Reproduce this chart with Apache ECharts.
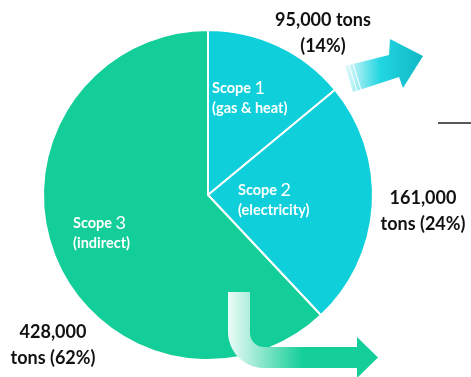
<!DOCTYPE html>
<html><head><meta charset="utf-8">
<script src="https://cdn.jsdelivr.net/npm/echarts@6/dist/echarts.min.js"></script>
<style>html,body{margin:0;padding:0;background:#fff}#c{width:471px;height:377px}</style>
</head><body><div id="c"></div>
<script>
const scopeNames = ['Scope', 'Scope', 'Scope'];
const scopeNums = ['1', '2', '3'];
const scopeDesc = ['(gas & heat)', '(electricity)', '(indirect)'];
const percents = [14, 24, 62];
const tons = ['95,000', '161,000', '428,000'];
const colors = ['#0fcfda', '#0fcfda', '#13ce98'];

const innerPos = [[212, 78], [238, 180], [73, 213]];
const outerPos = [[323, 7], [423, 185], [53, 319]];
const outerText = [
  tons[0] + ' tons\n(' + percents[0] + '%)',
  tons[1] + '\ntons (' + percents[1] + '%)',
  tons[2] + '\ntons (' + percents[2] + '%)'
];

function lin(x, y, x2, y2, stops) {
  return { type: 'linear', x: x, y: y, x2: x2, y2: y2, global: false,
    colorStops: stops.map(s => ({ offset: s[0], color: s[1] })) };
}
// points along a quarter arc (decorative arrow corner)
function arc(cx, cy, r, a0, a1, n) {
  const pts = [];
  for (let i = 0; i <= n; i++) {
    const a = (a0 + (a1 - a0) * i / n) * Math.PI / 180;
    pts.push([cx + r * Math.cos(a), cy + r * Math.sin(a)]);
  }
  return pts;
}
const bottomArrow = [[228, 292], [250, 292]]
  .concat(arc(264, 333, 14, 180, 90, 8))
  .concat([[357, 347], [357, 337], [378, 357.5], [357, 378], [357, 368]])
  .concat(arc(264, 332, 36, 90, 180, 12));

const chart = echarts.init(document.getElementById('c'));
const font = 'Lato, "Open Sans", sans-serif';
chart.setOption({
  animation: false,
  series: [{
    type: 'pie',
    center: [208, 195],
    radius: [0, 165],
    startAngle: 90,
    clockwise: true,
    silent: true,
    itemStyle: { borderColor: '#fff', borderWidth: 2 },
    data: percents.map((p, i) => ({ value: p, itemStyle: { color: colors[i] } })),
    label: {
      show: true,
      position: 'inside',
      formatter: p => '{a|' + scopeNames[p.dataIndex] + ' }{b|' + scopeNums[p.dataIndex] + '}\n{a|' + scopeDesc[p.dataIndex] + '}',
      rich: {
        a: { color: '#fff', fontSize: 14.5, fontWeight: 'bold', fontFamily: font, lineHeight: 20 },
        b: { color: '#fff', fontSize: 18, fontWeight: 'normal', fontFamily: font, lineHeight: 20 }
      }
    },
    labelLine: { show: false },
    labelLayout: p => ({ x: innerPos[p.dataIndex][0], y: innerPos[p.dataIndex][1], align: 'left', verticalAlign: 'top' })
  }, {
    type: 'pie',
    center: [208, 195],
    radius: [0, 165],
    startAngle: 90,
    clockwise: true,
    silent: true,
    z: 5,
    itemStyle: { color: 'rgba(0,0,0,0)' },
    data: percents.map(p => ({ value: p })),
    label: {
      show: true,
      position: 'inside',
      formatter: p => outerText[p.dataIndex],
      color: '#111',
      fontSize: 18,
      fontWeight: 'bold',
      fontFamily: font,
      lineHeight: 26,
      align: 'center'
    },
    labelLine: { show: false },
    labelLayout: p => ({ x: outerPos[p.dataIndex][0], y: outerPos[p.dataIndex][1], align: 'center', verticalAlign: 'top' })
  }],
  graphic: [
    {
      type: 'polygon', z: 10,
      shape: { points: [[345, 66], [389, 55], [390, 39], [423, 56], [403, 88], [399, 77], [353, 92]] },
      style: { fill: lin(0, 0, 1, 0, [[0, '#e6fafc'], [0.45, '#22d6e2'], [1, '#0fb8c4']]) }
    },
    {
      type: 'line', z: 11,
      shape: { x1: 349, y1: 65, x2: 357, y2: 91 },
      style: { stroke: '#fff', lineWidth: 1 }
    },
    {
      type: 'line', z: 11,
      shape: { x1: 353, y1: 64, x2: 361, y2: 90 },
      style: { stroke: '#fff', lineWidth: 1 }
    },
    {
      type: 'polygon', z: 10,
      shape: { points: bottomArrow },
      style: { fill: lin(0, 0, 1, 0, [[0, '#ecfbf6'], [0.5, '#13ce98'], [1, '#13ce98']]) }
    },
    {
      type: 'line', z: 10,
      shape: { x1: 438, y1: 123, x2: 471, y2: 123 },
      style: { stroke: '#222', lineWidth: 1.5 }
    }
  ]
});
</script></body></html>
